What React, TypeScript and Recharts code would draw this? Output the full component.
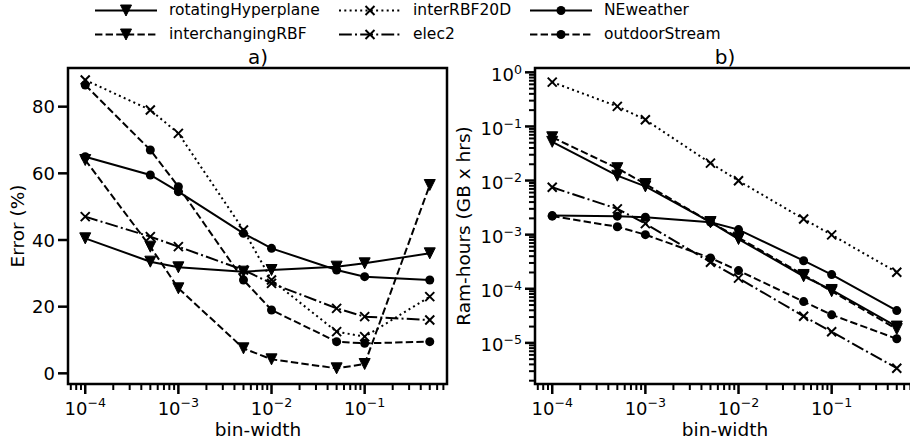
import React from "react";
import { LineChart, Line, XAxis, YAxis, ReferenceArea } from "recharts";

const FONT = "'DejaVu Sans', sans-serif";

const binWidths = [1e-4, 5e-4, 1e-3, 5e-3, 1e-2, 5e-2, 1e-1, 5e-1];

// a) error (%)
const errRotatingHyperplane = [40.5, 33.5, 31.8, 30.5, 31, 32, 33, 36];
const errInterchangingRBF = [64, 38, 25.5, 7.5, 4.2, 1.5, 2.8, 56.5];
const errInterRBF20D = [88, 79, 72, 43, 28, 12.5, 11, 23];
const errNEweather = [65, 59.5, 54.5, 42, 37.5, 31, 29, 28];
const errOutdoorStream = [86.5, 67, 56, 28, 19, 9.5, 9, 9.5];
const errElec2 = [47, 41, 38, 31, 27, 19.5, 17, 16];

// b) ram-hours (GB x hrs)
const ramRotatingHyperplane = [0.052, 0.0123, 0.0078, 0.0017, 0.00083, 0.00017, 0.000095, 0.00002];
const ramInterchangingRBF = [0.063, 0.0169, 0.0086, 0.0017, 0.00088, 0.00018, 0.00009, 0.000018];
const ramInterRBF20D = [0.66, 0.235, 0.133, 0.021, 0.0099, 0.00195, 0.00099, 0.000202];
const ramNEweather = [0.00225, 0.0022, 0.0021, 0.0017, 0.00124, 0.00033, 0.000183, 0.0000395];
const ramOutdoorStream = [0.0022, 0.0014, 0.001, 0.00037, 0.000217, 0.000058, 0.000033, 0.0000119];
const ramElec2 = [0.0075, 0.003, 0.0016, 0.00031, 0.000157, 0.000031, 0.000016, 0.0000034];

const errorTicks = [0, 20, 40, 60, 80];
const xDecades = [1e-5, 1e-4, 1e-3, 1e-2, 1e-1, 1];
const ramDecades = [1e-6, 1e-5, 1e-4, 1e-3, 1e-2, 1e-1, 1];

const X_DOMAIN: [number, number] = [Math.pow(10, -4.185), Math.pow(10, -0.116)];
const ERR_DOMAIN: [number, number] = [-3.2, 91.6];
const RAM_DOMAIN: [number, number] = [Math.pow(10, -5.76), Math.pow(10, 0.08)];

type Series = { key: string; dash?: string; marker: "v" | "o" | "x" };

// legend order (column-major, 4 columns)
const series: Series[] = [
  { key: "rotatingHyperplane", marker: "v" },
  { key: "interchangingRBF", dash: "7.4 3.2", marker: "v" },
  { key: "interRBF20D", dash: "2 3.3", marker: "x" },
  { key: "elec2", dash: "12.8 3.2 2 3.2", marker: "x" },
  { key: "NEweather", marker: "o" },
  { key: "outdoorStream", dash: "7.4 3.2", marker: "o" },
];

const errData = binWidths.map((bw, i) => ({
  bw,
  rotatingHyperplane: errRotatingHyperplane[i],
  interchangingRBF: errInterchangingRBF[i],
  interRBF20D: errInterRBF20D[i],
  elec2: errElec2[i],
  NEweather: errNEweather[i],
  outdoorStream: errOutdoorStream[i],
}));

const ramData = binWidths.map((bw, i) => ({
  bw,
  rotatingHyperplane: ramRotatingHyperplane[i],
  interchangingRBF: ramInterchangingRBF[i],
  interRBF20D: ramInterRBF20D[i],
  elec2: ramElec2[i],
  NEweather: ramNEweather[i],
  outdoorStream: ramOutdoorStream[i],
}));

function logTicks(decades: number[], domain: [number, number]) {
  const out: number[] = [];
  decades.forEach((d) => {
    for (let m = 1; m <= 9; m++) {
      const v = m * d;
      if (v >= domain[0] && v <= domain[1]) out.push(v);
    }
  });
  return out;
}

const xTicks = logTicks(xDecades, X_DOMAIN);
const ramTicks = logTicks(ramDecades, RAM_DOMAIN);

const isDecade = (v: number) => Math.abs(Math.log10(v) - Math.round(Math.log10(v))) < 1e-6;
const expLabel = (v: number) => {
  const e = Math.round(Math.log10(v));
  return e < 0 ? `\u2212${-e}` : `${e}`;
};

function Marker({ kind, cx, cy }: { kind: string; cx: number; cy: number }) {
  if (kind === "v") {
    return (
      <path
        d={`M${cx - 5.5},${cy - 5.5}L${cx + 5.5},${cy - 5.5}L${cx},${cy + 5.5}Z`}
        fill="#000"
        stroke="#000"
        strokeWidth={1}
      />
    );
  }
  if (kind === "o") return <circle cx={cx} cy={cy} r={4.5} fill="#000" />;
  return (
    <path
      d={`M${cx - 4.5},${cy - 4.5}L${cx + 4.5},${cy + 4.5}M${cx - 4.5},${cy + 4.5}L${cx + 4.5},${cy - 4.5}`}
      stroke="#000"
      strokeWidth={2}
      fill="none"
    />
  );
}

const makeDot = (kind: string) => (props: any) => {
  const { cx, cy, index } = props;
  if (cx == null || cy == null) return <g key={index} />;
  return (
    <g key={index}>
      <Marker kind={kind} cx={cx} cy={cy} />
    </g>
  );
};

const LogXTick = (props: any) => {
  const { x, y, payload } = props;
  const v = payload.value;
  const major = isDecade(v);
  return (
    <g>
      <line x1={x} x2={x} y1={y} y2={y + (major ? 10 : 6)} stroke="#000" strokeWidth={major ? 2.5 : 2} />
      {major && (
        <text x={x} y={y + 31} textAnchor="middle" fontSize={18} fontFamily={FONT} fill="#000">
          <tspan>10</tspan>
          <tspan dy={-8} fontSize={12.6}>
            {expLabel(v)}
          </tspan>
        </text>
      )}
    </g>
  );
};

const ErrYTick = (props: any) => {
  const { x, y, payload } = props;
  return (
    <g>
      <line x1={x - 10} x2={x} y1={y} y2={y} stroke="#000" strokeWidth={2.5} />
      <text x={x - 13} y={y + 6.5} textAnchor="end" fontSize={18} fontFamily={FONT} fill="#000">
        {payload.value}
      </text>
    </g>
  );
};

const RamYTick = (props: any) => {
  const { x, y, payload } = props;
  const v = payload.value;
  const major = isDecade(v);
  return (
    <g>
      <line x1={x - (major ? 10 : 6)} x2={x} y1={y} y2={y} stroke="#000" strokeWidth={major ? 2.5 : 2} />
      {major && (
        <text x={x - 13} y={y + 8.4} textAnchor="end" fontSize={18} fontFamily={FONT} fill="#000">
          <tspan>10</tspan>
          <tspan dy={-7} fontSize={12.6}>
            {expLabel(v)}
          </tspan>
        </text>
      )}
    </g>
  );
};

function renderLines() {
  return series.map((s) => (
    <Line
      key={s.key}
      type="linear"
      dataKey={s.key}
      stroke="#000"
      strokeWidth={2}
      strokeDasharray={s.dash}
      dot={makeDot(s.marker)}
      activeDot={false}
      isAnimationActive={false}
    />
  ));
}

// legend layout: [sample start, text start] per column, row baselines
const legendCols = [95, 339, 530, 709];
const legendRows = [15, 39];

function Legend() {
  return (
    <g>
      {series.map((s, i) => {
        const col = Math.floor(i / 2);
        const row = i % 2;
        const x0 = legendCols[col];
        const base = legendRows[row];
        const ly = base - 4.5;
        return (
          <g key={s.key}>
            <line x1={x0} x2={x0 + 62} y1={ly} y2={ly} stroke="#000" strokeWidth={2} strokeDasharray={s.dash} />
            <Marker kind={s.marker} cx={x0 + 31} cy={ly} />
            <text x={x0 + 74} y={base} fontSize={15.5} fontFamily={FONT} fill="#000">
              {s.key}
            </text>
          </g>
        );
      })}
    </g>
  );
}

export default function App() {
  return (
    <div
      style={{
        position: "absolute",
        left: 0,
        top: 0,
        width: 910,
        height: 444,
        overflow: "hidden",
        background: "#fff",
      }}
    >
      <div style={{ position: "absolute", left: 0, top: 0 }}>
        <LineChart width={460} height={444} data={errData} margin={{ top: 68, right: 13, bottom: 0, left: 0 }}>
          <XAxis
            dataKey="bw"
            type="number"
            scale="log"
            domain={X_DOMAIN}
            allowDataOverflow
            ticks={xTicks}
            interval={0}
            tick={LogXTick}
            tickLine={false}
            axisLine={false}
            tickSize={0}
            tickMargin={0}
            height={60}
          />
          <YAxis
            type="number"
            domain={ERR_DOMAIN}
            allowDataOverflow
            ticks={errorTicks}
            interval={0}
            tick={ErrYTick}
            tickLine={false}
            axisLine={false}
            tickSize={0}
            tickMargin={0}
            width={68}
          />
          <ReferenceArea
            x1={X_DOMAIN[0]}
            x2={X_DOMAIN[1]}
            y1={ERR_DOMAIN[0]}
            y2={ERR_DOMAIN[1]}
            fill="none"
            fillOpacity={0}
            stroke="#000"
            strokeWidth={2.5}
            ifOverflow="visible"
          />
          {renderLines()}
        </LineChart>
      </div>
      <div style={{ position: "absolute", left: 460, top: 0 }}>
        <LineChart width={470} height={444} data={ramData} margin={{ top: 68, right: 16, bottom: 0, left: 0 }}>
          <XAxis
            dataKey="bw"
            type="number"
            scale="log"
            domain={X_DOMAIN}
            allowDataOverflow
            ticks={xTicks}
            interval={0}
            tick={LogXTick}
            tickLine={false}
            axisLine={false}
            tickSize={0}
            tickMargin={0}
            height={60}
          />
          <YAxis
            type="number"
            scale="log"
            domain={RAM_DOMAIN}
            allowDataOverflow
            ticks={ramTicks}
            interval={0}
            tick={RamYTick}
            tickLine={false}
            axisLine={false}
            tickSize={0}
            tickMargin={0}
            width={75}
          />
          <ReferenceArea
            x1={X_DOMAIN[0]}
            x2={X_DOMAIN[1]}
            y1={RAM_DOMAIN[0]}
            y2={RAM_DOMAIN[1]}
            fill="none"
            fillOpacity={0}
            stroke="#000"
            strokeWidth={2.5}
            ifOverflow="visible"
          />
          {renderLines()}
        </LineChart>
      </div>
      <svg
        width={910}
        height={444}
        style={{ position: "absolute", left: 0, top: 0, pointerEvents: "none" }}
      >
        <Legend />
        <text x={258} y={64} textAnchor="middle" fontSize={20} fontFamily={FONT}>
          a)
        </text>
        <text x={725} y={64} textAnchor="middle" fontSize={20} fontFamily={FONT}>
          b)
        </text>
        <text x={258} y={436} textAnchor="middle" fontSize={18.5} fontFamily={FONT}>
          bin-width
        </text>
        <text x={725} y={436} textAnchor="middle" fontSize={18.5} fontFamily={FONT}>
          bin-width
        </text>
        <text x={24} y={226} textAnchor="middle" fontSize={18.5} fontFamily={FONT} transform="rotate(-90 24 226)">
          Error (%)
        </text>
        <text x={470} y={226} textAnchor="middle" fontSize={18.5} fontFamily={FONT} transform="rotate(-90 470 226)">
          Ram-hours (GB x hrs)
        </text>
      </svg>
    </div>
  );
}
